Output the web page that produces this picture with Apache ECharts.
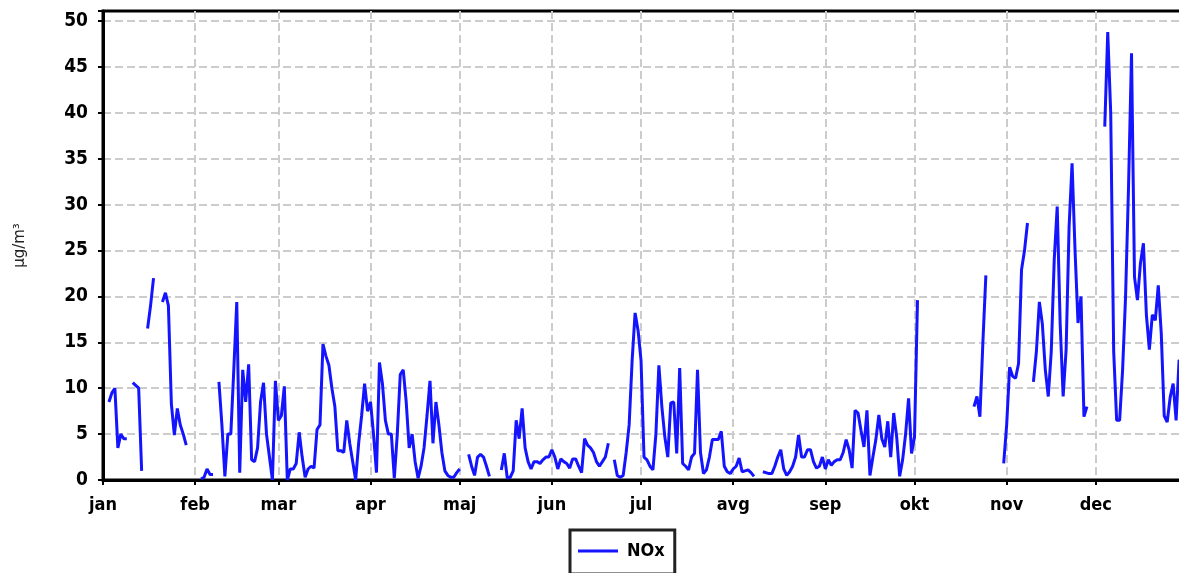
<!DOCTYPE html>
<html><head><meta charset="utf-8">
<script src="https://cdn.jsdelivr.net/npm/echarts@6/dist/echarts.min.js"></script>
<style>html,body{margin:0;padding:0;overflow:hidden;background:#fff}#c{width:1190px;height:573px}</style>
</head><body><div id="c"></div>
<script>
const monthLabels = ['jan','feb','mar','apr','maj','jun','jul','avg','sep','okt','nov','dec'];
const monthLengths = [31,28,31,30,31,30,31,31,30,31,30,31];
const seriesName = 'NOx';
const yAxisName = 'µg/m³';
const yTickStep = 5;
const yTopValue = 51.1;

const jan = [null,null,8.5,9.5,10,3.5,5,4.5,4.5,null,10.6,10.3,10,1,null,16.5,19,22,null,null,19.4,20.4,19,8.3,4.9,7.8,6,5,3.8,null,null];
const feb = [null,null,0.1,0.3,1.2,0.6,0.6,null,10.7,6,0.4,5,5,12,19.4,0.8,12,8.5,12.6,2.2,2,3.5,8.5,10.6,5,2.5,0,10.8];
const mar = [6.5,7,10.2,0,1.2,1.2,1.8,5.2,2.5,0.3,1.2,1.5,1.3,5.5,6,14.8,13.5,12.5,10,8,3.2,3.2,3,6.5,4,2,0,4,7,10.5,7.5];
const apr = [8.5,5,0.8,12.8,10.5,6.5,5,5,0.2,5,11.5,12,8.5,3.5,5,2,0.2,1.5,3.5,7,10.8,4,8.5,6,3,1,0.5,0.3,0.3,0.8];
const maj = [1.2,null,null,2.8,1.5,0.5,2.5,2.8,2.5,1.5,0.4,null,null,null,1.1,2.9,0.2,0.3,1,6.5,4.5,7.8,3.5,2,1.2,2,2,1.8,2.2,2.5,2.5];
const jun = [3.3,2.5,1.2,2.3,2,1.8,1.3,2.3,2.3,1.5,0.8,4.5,3.8,3.5,3,2,1.5,2,2.5,4,null,2.2,0.5,0.3,0.5,3,6,13,18.2,16.3];
const jul = [13,2.5,2.2,1.5,1.1,5,12.5,8,4.7,2.5,8.4,8.5,2.9,12.2,1.8,1.5,1.1,2.5,2.9,12,3,0.7,1.1,2.5,4.4,4.4,4.4,5.3,1.5,0.9,0.7];
const avg = [1.2,1.5,2.4,0.9,1,1.1,0.8,0.4,null,null,0.9,0.8,0.7,0.7,1.5,2.5,3.3,1.2,0.5,0.9,1.5,2.5,4.9,2.5,2.5,3.3,3.3,2,1.3,1.5,2.5];
const sep = [1.2,2.2,1.6,2,2.2,2.2,3,4.4,3.3,1.3,7.6,7.3,5.4,3.6,7.6,0.5,2.5,4.4,7.1,4.5,3.6,6.4,2.5,7.3,4.7,0.4,2.2,5,8.9,2.9];
const okt = [4.7,19.6,null,null,null,null,null,null,null,null,null,null,null,null,null,null,null,null,null,null,8,9.1,6.9,15,22.3,null,null,null,null,null,1.8];
const nov = [6,12.3,11.3,11.1,12.7,22.9,25,28,null,10.7,14,19.4,17,12,9.1,14,24,29.8,17,9.1,14.2,27.6,34.5,25,17.1,20,6.9,8,null,null];
const dec = [null,null,null,38.5,48.8,40,14,6.5,6.5,12,20,32,46.5,22.1,19.6,23.6,25.8,18,14.2,18,17.4,21.2,16,7,6.3,9,10.5,6.5,13.1,12,10];

const noxValues = [].concat(jan,feb,mar,apr,maj,jun,jul,avg,sep,okt,nov,dec);
const monthStarts = monthLengths.reduce((acc, len, i) => { acc.push(i === 0 ? 0 : acc[i-1] + monthLengths[i-1]); return acc; }, []);
const dayCount = monthLengths.reduce((a, b) => a + b, 0);
const dayCategories = Array.from({length: dayCount + 1}, (_, i) => i);
const isMonthStart = (idx) => monthStarts.indexOf(idx) >= 0;

const chart = echarts.init(document.getElementById('c'), null, {renderer: 'canvas'});
const labelFont = "'DejaVu Sans Condensed', 'DejaVu Sans', sans-serif";
chart.setOption({
  animation: false,
  backgroundColor: '#ffffff',
  grid: {left: 103, top: 11, right: 2, bottom: 93, show: true, borderColor: '#000', borderWidth: 3, containLabel: false},
  legend: {
    data: [{name: seriesName, icon: 'rect'}],
    left: 570, top: 530,
    orient: 'horizontal',
    borderColor: '#222', borderWidth: 3,
    padding: [12, 10, 14, 8],
    itemWidth: 40, itemHeight: 3,
    itemStyle: {color: '#1414ff'},
    textStyle: {fontFamily: labelFont, fontWeight: 'bold', fontSize: 18, color: '#000', padding: [0, 0, 0, 4]}
  },
  xAxis: {
    type: 'category',
    data: dayCategories,
    boundaryGap: false,
    axisLine: {lineStyle: {color: '#000', width: 3}},
    axisTick: {show: true, interval: (i) => isMonthStart(i), length: 5, lineStyle: {color: '#000', width: 2}},
    axisLabel: {
      interval: (i) => isMonthStart(i),
      formatter: (v, i) => monthLabels[monthStarts.indexOf(Number(v))] || '',
      margin: 16,
      fontFamily: labelFont, fontWeight: 'bold', fontSize: 18, color: '#000'
    },
    splitLine: {show: true, interval: (i) => isMonthStart(i), lineStyle: {color: '#cccccc', width: 2, type: [8, 4]}}
  },
  yAxis: {
    type: 'value',
    min: 0, max: yTopValue, interval: yTickStep,
    name: yAxisName,
    nameLocation: 'middle',
    nameGap: 75,
    nameTextStyle: {fontFamily: "'DejaVu Sans', sans-serif", fontSize: 15, color: '#222'},
    axisLine: {show: true, lineStyle: {color: '#000', width: 3}},
    axisTick: {show: true, length: 5, lineStyle: {color: '#000', width: 2}},
    axisLabel: {
      margin: 15,
      formatter: (v) => (Math.abs(v % yTickStep) < 1e-9 ? String(v) : ''),
      fontFamily: labelFont, fontWeight: 'bold', fontSize: 19, color: '#000'
    },
    splitLine: {show: true, showMaxLine: false, lineStyle: {color: '#cccccc', width: 2, type: [8, 4]}}
  },
  series: [{
    name: seriesName,
    type: 'line',
    data: noxValues,
    symbol: 'none',
    showSymbol: false,
    connectNulls: false,
    lineStyle: {color: '#1414ff', width: 3},
    itemStyle: {color: '#1414ff'}
  }]
});
</script></body></html>
